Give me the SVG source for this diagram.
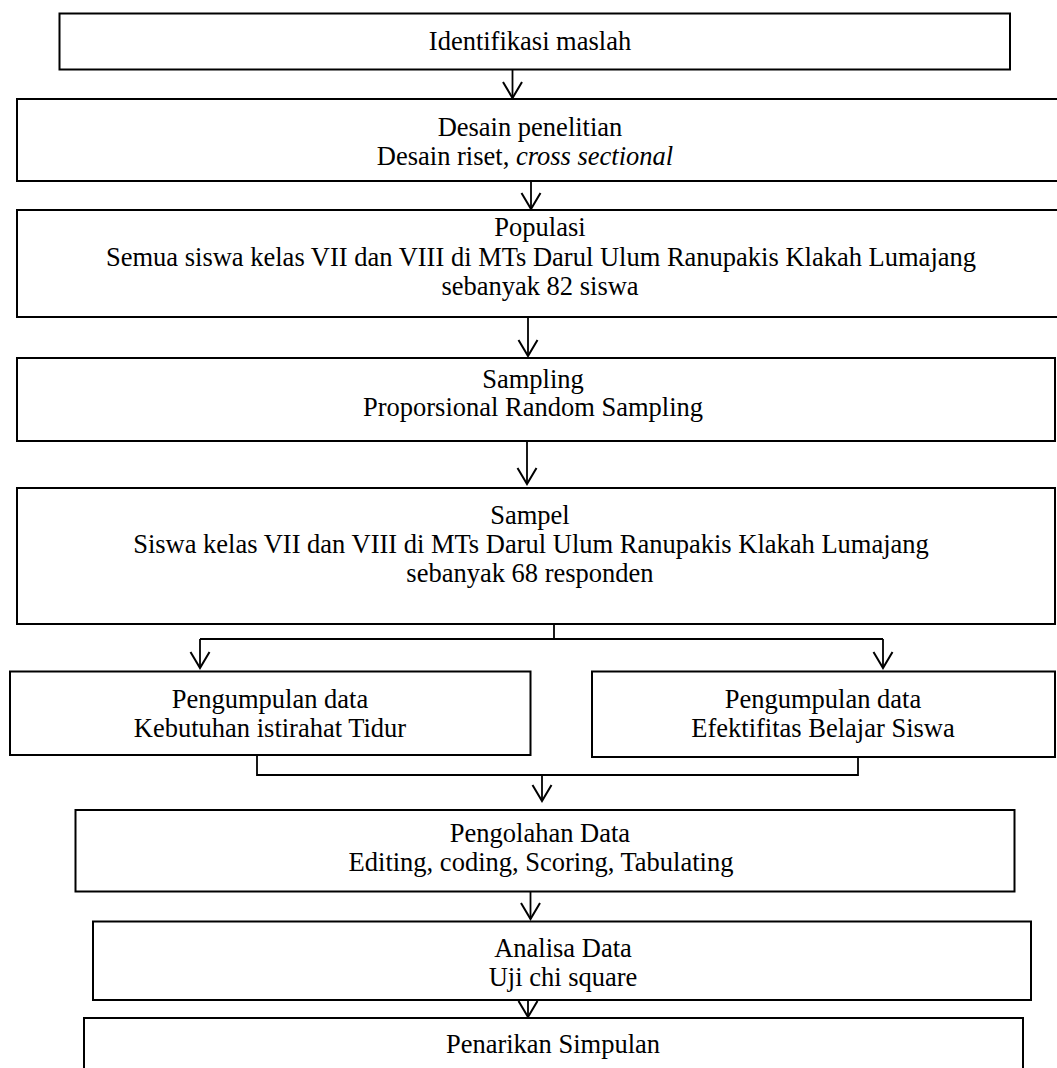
<svg xmlns="http://www.w3.org/2000/svg" width="1057" height="1068" viewBox="0 0 1057 1068">
<style>
.box{fill:#fff;stroke:#000;stroke-width:2}
.t{font-family:"Liberation Serif","Times New Roman",serif;font-size:26.5px;fill:#000;text-anchor:middle}
.c{fill:none;stroke:#000;stroke-width:1.8}
</style>
<defs>
<marker id="ah" markerUnits="userSpaceOnUse" markerWidth="24" markerHeight="24" viewBox="-18 -12 20 24" refX="0" refY="0" orient="auto">
<path d="M-16,-9.5 L0,0 L-16,9.5" fill="none" stroke="#000" stroke-width="2"/>
</marker>
</defs>
<rect width="1057" height="1068" fill="#fff"/>
<g id="connectors">
<line class="c" x1="512.5" y1="69" x2="512.5" y2="98" marker-end="url(#ah)"/>
<line class="c" x1="531" y1="181" x2="531" y2="209" marker-end="url(#ah)"/>
<line class="c" x1="528" y1="317" x2="528" y2="356" marker-end="url(#ah)"/>
<line class="c" x1="527" y1="441" x2="527" y2="484" marker-end="url(#ah)"/>
<polyline class="c" points="554,624 554,639"/>
<polyline class="c" points="200,639 883,639"/>
<line class="c" x1="200" y1="639" x2="200" y2="668" marker-end="url(#ah)"/>
<line class="c" x1="883" y1="639" x2="883" y2="668" marker-end="url(#ah)"/>
<polyline class="c" points="257,755 257,775 858,775 858,757"/>
<line class="c" x1="542" y1="775" x2="542" y2="801" marker-end="url(#ah)"/>
<line class="c" x1="530.5" y1="892" x2="530.5" y2="919" marker-end="url(#ah)"/>
<line class="c" x1="528" y1="1000" x2="528" y2="1017" marker-end="url(#ah)"/>
</g>
<g id="n1"><rect class="box" x="59.5" y="13.5" width="950.5" height="56"/>
<text class="t" x="530" y="50">Identifikasi maslah</text></g>
<g id="n2"><rect class="box" x="17" y="99" width="1050" height="82"/>
<text class="t" x="530" y="136">Desain penelitian</text>
<text class="t" x="525" y="165">Desain riset, <tspan font-style="italic">cross sectional</tspan></text></g>
<g id="n3"><rect class="box" x="17" y="210" width="1050" height="107"/>
<text class="t" x="540" y="236">Populasi</text>
<text class="t" x="541" y="266">Semua siswa kelas VII dan VIII di MTs Darul Ulum Ranupakis Klakah Lumajang</text>
<text class="t" x="540" y="295">sebanyak 82 siswa</text></g>
<g id="n4"><rect class="box" x="17" y="358" width="1038" height="83"/>
<text class="t" x="533" y="388">Sampling</text>
<text class="t" x="533" y="416">Proporsional Random Sampling</text></g>
<g id="n5"><rect class="box" x="17" y="488" width="1038" height="136"/>
<text class="t" x="530" y="524">Sampel</text>
<text class="t" x="531" y="553">Siswa kelas VII dan VIII di MTs Darul Ulum Ranupakis Klakah Lumajang</text>
<text class="t" x="530" y="582">sebanyak 68 responden</text></g>
<g id="n6"><rect class="box" x="10" y="671.5" width="520.5" height="83.5"/>
<text class="t" x="270" y="708">Pengumpulan data</text>
<text class="t" x="270" y="737">Kebutuhan istirahat Tidur</text></g>
<g id="n7"><rect class="box" x="592" y="671.5" width="463" height="85.5"/>
<text class="t" x="823" y="708">Pengumpulan data</text>
<text class="t" x="823" y="737">Efektifitas Belajar Siswa</text></g>
<g id="n8"><rect class="box" x="75.5" y="810" width="939" height="81.5"/>
<text class="t" x="540" y="842">Pengolahan Data</text>
<text class="t" x="541" y="871">Editing, coding, Scoring, Tabulating</text></g>
<g id="n9"><rect class="box" x="93" y="921.5" width="938" height="78.5"/>
<text class="t" x="563" y="957">Analisa Data</text>
<text class="t" x="563" y="986">Uji chi square</text></g>
<g id="n10"><rect class="box" x="84" y="1018" width="939" height="60"/>
<text class="t" x="553" y="1053">Penarikan Simpulan</text></g>
</svg>
